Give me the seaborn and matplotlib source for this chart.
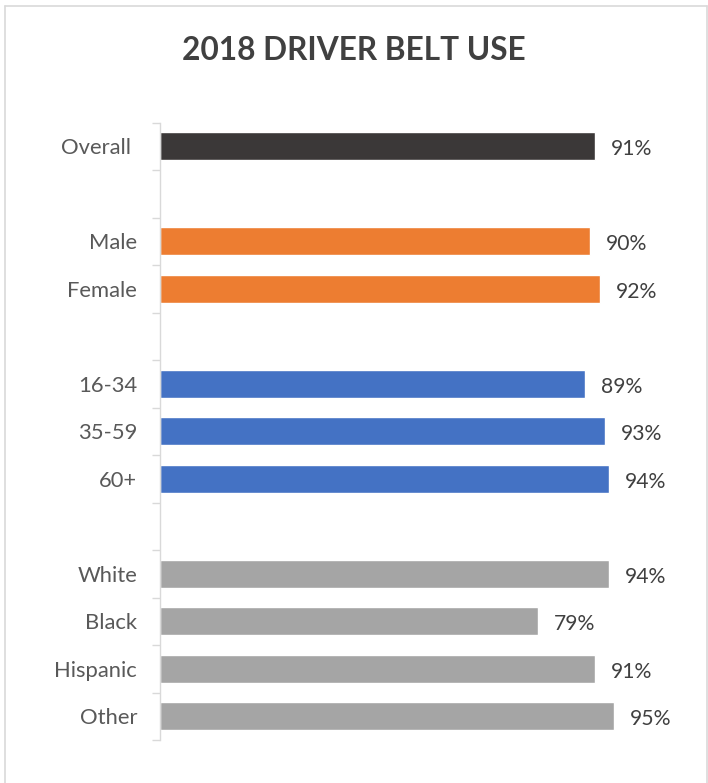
import matplotlib
matplotlib.use("Agg")
import matplotlib.pyplot as plt
import matplotlib.lines as mlines
import seaborn as sns
import pandas as pd
import numpy as np

categories = ["Overall", "Male", "Female", "16-34", "35-59", "60+",
              "White", "Black", "Hispanic", "Other"]
groups = ["Overall", "Gender", "Gender", "Age", "Age", "Age",
          "Race", "Race", "Race", "Race"]
values = [91, 90, 92, 89, 93, 94, 94, 79, 91, 95]
row_order = ["Overall", " ", "Male", "Female", "  ", "16-34", "35-59", "60+",
             "   ", "White", "Black", "Hispanic", "Other"]
palette = {"Overall": "#3B3838", "Gender": "#ED7D31", "Age": "#4472C4", "Race": "#A5A5A5"}

df = pd.DataFrame({"category": categories, "group": groups, "value": values})

sns.set_theme(style="white")
plt.rcParams["font.family"] = ["Lato", "DejaVu Sans"]

fig = plt.figure(figsize=(7.08, 7.83), dpi=100)
ax = fig.add_axes([160/708, 43/783, 478/708, (740-122.7)/783])

sns.barplot(data=df, x="value", y="category", hue="group", order=row_order,
            palette=palette, dodge=False, legend=False, width=0.59,
            saturation=1, ax=ax, orient="h", errorbar=None)

ax.set_xlim(0, 100)
ax.set_ylim(len(row_order) - 0.5, -0.5)
ax.set_xlabel("")
ax.set_ylabel("")
ax.set_xticks([])
for s in ["top", "right", "bottom"]:
    ax.spines[s].set_visible(False)
ax.spines["left"].set_color("#D9D9D9")
ax.spines["left"].set_linewidth(1.0)

ax.set_yticks(range(len(row_order)))
ax.set_yticklabels([("Overall " if c == "Overall" else c) for c in row_order])
ax.tick_params(axis="y", which="major", length=0, pad=16.5, labelsize=15.8,
               labelcolor="#595959")
ax.set_yticks(np.arange(-0.5, len(row_order), 1.0), minor=True)
ax.tick_params(axis="y", which="minor", length=6, width=1, color="#D9D9D9", left=True)

for cont in ax.containers:
    texts = ax.bar_label(cont, labels=[f"{v:.0f}%" if not np.isnan(v) else "" for v in cont.datavalues],
                         padding=11.5, fontsize=15.2, color="#404040")
    for t in texts:
        t.xyann = (11.5, -2)

fig.text(0.5, 1 - 50/783, "2018 DRIVER BELT USE", ha="center", va="center",
         fontsize=22.8, fontweight="bold", color="#404040")

bc = "#D9D9D9"
fig.add_artist(mlines.Line2D([5/708, 5/708], [0, 1 - 6/783], color=bc, lw=1.2, transform=fig.transFigure))
fig.add_artist(mlines.Line2D([706.5/708, 706.5/708], [0, 1 - 6/783], color=bc, lw=1.2, transform=fig.transFigure))
fig.add_artist(mlines.Line2D([5/708, 706.5/708], [1 - 6/783, 1 - 6/783], color=bc, lw=1.2, transform=fig.transFigure))

fig.savefig("out.png", dpi=100)
